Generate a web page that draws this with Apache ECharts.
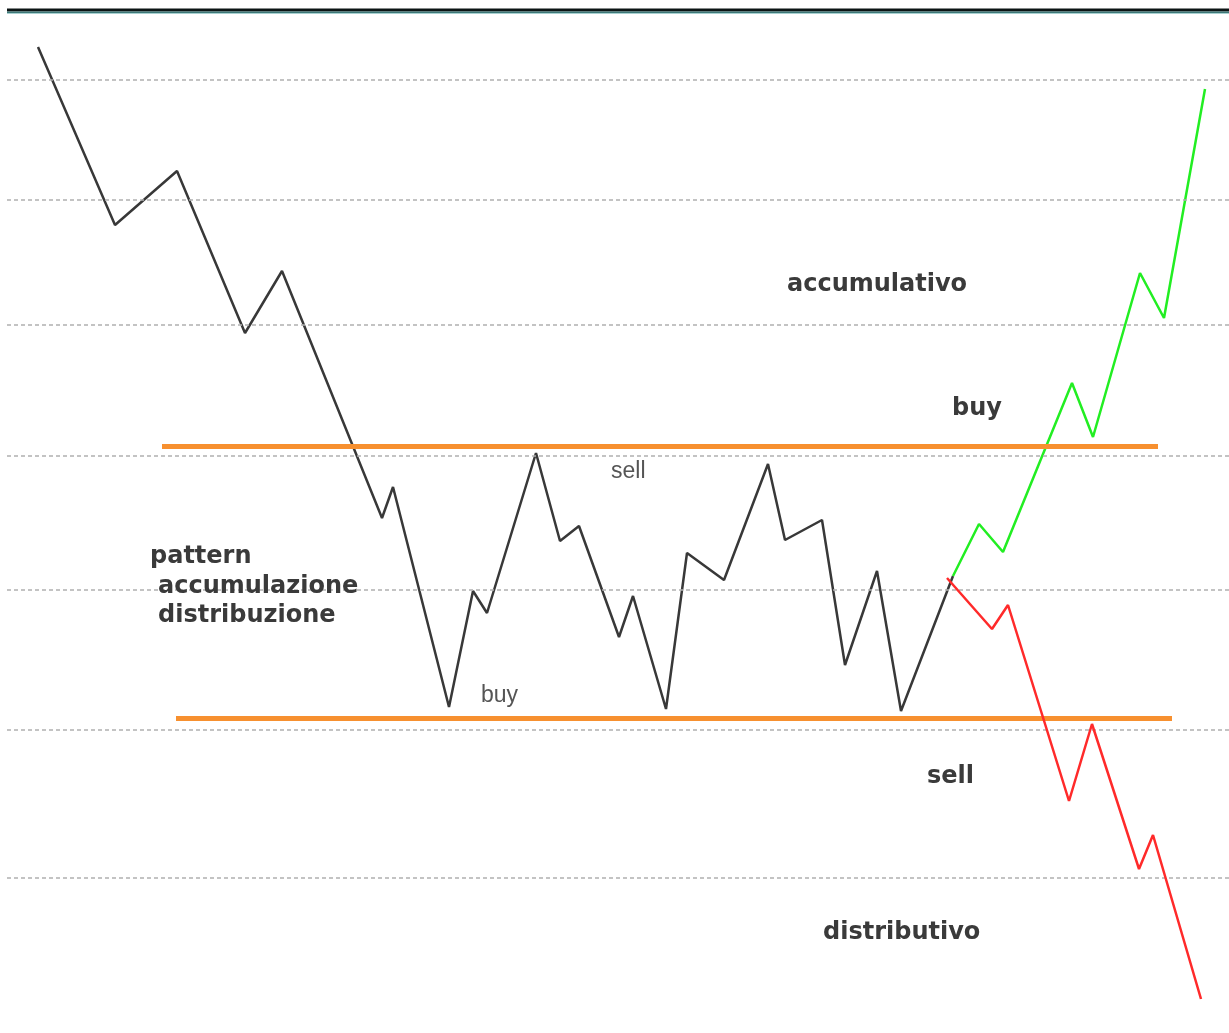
<!DOCTYPE html>
<html>
<head>
<meta charset="utf-8">
<script src="https://cdn.jsdelivr.net/npm/echarts@6/dist/echarts.min.js"></script>
<style>
html,body{margin:0;padding:0;background:#fff;}
#chart{width:1229px;height:1033px;}
</style>
</head>
<body>
<div id="chart"></div>
<script>
// ---- data (time units, price units) ----
var mainTime  = [3.8, 11.5, 17.7, 24.5, 28.2, 38.2, 39.3, 44.9, 47.3, 48.7, 53.6, 56.0, 57.9, 61.9, 63.3, 66.6, 68.7, 72.4, 76.8, 78.5, 82.2, 84.5, 87.7, 90.1, 95.3];
var mainPrice = [98.6, 80.8, 86.2, 70.0, 76.2, 51.5, 54.6, 32.6, 44.2, 42.0, 58.0, 49.2, 50.7, 39.6, 43.7, 32.4, 48.0, 45.3, 56.9, 49.3, 51.3, 36.8, 46.2, 32.2, 45.7];
var upTime    = [95.3, 97.9, 100.3, 107.2, 109.3, 114.0, 116.4, 120.5];
var upPrice   = [45.7, 50.9, 48.1, 65.0, 59.6, 76.0, 71.5, 94.4];
var downTime  = [94.7, 99.2, 100.8, 106.9, 109.2, 113.9, 115.3, 120.1];
var downPrice = [45.5, 40.4, 42.8, 23.2, 30.9, 16.4, 19.8, 3.4];
var gridLevels = [95.3, 83.3, 70.8, 57.7, 44.3, 30.3, 15.5];
var resistance = {level: 58.7, from: 16.2, to: 115.8};
var support    = {level: 31.5, from: 17.6, to: 117.2};

function zip(a, b) { return a.map(function (v, i) { return [v, b[i]]; }); }

var chart = echarts.init(document.getElementById('chart'), null, {renderer: 'canvas'});

var boldFont = 'bold 24px "DejaVu Sans"';
var normFont = '23px "Liberation Sans"';
function txt(t, x, y, font, fill) {
  return {type: 'text', z: 100, style: {text: t, x: x, y: y, font: font, fill: fill, textAlign: 'left', textVerticalAlign: 'top'}};
}

var option = {
  animation: false,
  backgroundColor: '#ffffff',
  grid: {left: 0, right: 0, top: 0, bottom: 0},
  xAxis: {type: 'value', min: 0, max: 122.9, show: false, splitLine: {show: false}},
  yAxis: {type: 'value', min: 0, max: 103.3, show: false, splitLine: {show: false}},
  series: [
    {
      type: 'line', data: [], silent: true, z: 1,
      markLine: {
        silent: true, symbol: ['none', 'none'], label: {show: false},
        lineStyle: {color: '#b0b0b0', width: 1.5, type: [4, 3]},
        data: gridLevels.map(function (lv) { return [{coord: [0.7, lv]}, {coord: [122.9, lv]}]; })
      }
    },
    {
      type: 'line', data: [], silent: true, z: 2,
      markLine: {
        silent: true, symbol: ['none', 'none'], label: {show: false},
        lineStyle: {color: '#f7902f', width: 5, type: 'solid'},
        data: [
          [{coord: [resistance.from, resistance.level]}, {coord: [resistance.to, resistance.level]}],
          [{coord: [support.from, support.level]}, {coord: [support.to, support.level]}]
        ]
      }
    },
    {
      type: 'line', z: 3, data: zip(mainTime, mainPrice), showSymbol: false,
      lineStyle: {color: '#383838', width: 2.5}
    },
    {
      type: 'line', z: 4, data: zip(upTime, upPrice), showSymbol: false,
      lineStyle: {color: '#22ee22', width: 2.5}
    },
    {
      type: 'line', z: 5, data: zip(downTime, downPrice), showSymbol: false,
      lineStyle: {color: '#ff2a2a', width: 2.5}
    }
  ],
  graphic: [
    {type: 'rect', z: 100, shape: {x: 7, y: 8.5, width: 1222, height: 3}, style: {fill: '#0c1414'}},
    {type: 'rect', z: 100, shape: {x: 7, y: 11.5, width: 1222, height: 1.5}, style: {fill: '#3d7878'}},
    {type: 'rect', z: 100, shape: {x: 7, y: 13, width: 1222, height: 1}, style: {fill: '#a8d0d0'}},
    txt('accumulativo', 787, 273, boldFont, '#3a3a3a'),
    txt('buy', 952, 397, boldFont, '#3a3a3a'),
    txt('sell', 927, 765, boldFont, '#3a3a3a'),
    txt('distributivo', 823, 921, boldFont, '#3a3a3a'),
    txt('pattern', 150, 545, boldFont, '#3a3a3a'),
    txt('accumulazione', 158, 575, boldFont, '#3a3a3a'),
    txt('distribuzione', 158, 604, boldFont, '#3a3a3a'),
    txt('sell', 611, 460, normFont, '#555555'),
    txt('buy', 481, 684, normFont, '#555555')
  ]
};
chart.setOption(option);
</script>
</body>
</html>
